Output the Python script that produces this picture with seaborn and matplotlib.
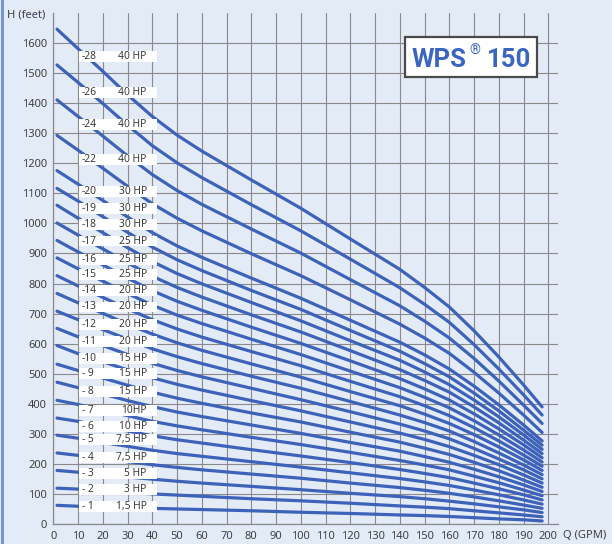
import matplotlib
matplotlib.use("Agg")
import matplotlib.pyplot as plt
import seaborn as sns
import pandas as pd
from matplotlib.patches import Rectangle
from matplotlib.lines import Line2D

# ---------------- data ----------------
flow_gpm = [1.5, 10, 20, 30, 40, 50, 60, 80, 100, 120, 140, 150, 160, 170,
            180, 190, 197.5]

head_s1 = [63, 60, 58, 56, 53, 51, 49, 45, 40, 36, 31, 29, 26, 22, 18, 15, 11]
head_s2 = [120, 117, 111, 107, 101, 97, 93, 85, 78, 70, 61, 57, 52, 45, 38, 31, 25]
head_s3 = [179, 173, 165, 157, 150, 143, 137, 126, 115, 103, 92, 85, 77, 68, 58, 48, 39]
head_s4 = [237, 229, 218, 208, 198, 189, 181, 167, 153, 137, 122, 113, 103, 91, 78, 64, 53]
head_s5 = [296, 286, 272, 259, 246, 235, 226, 208, 190, 171, 152, 141, 129, 114, 98, 81, 67]
head_s6 = [353, 342, 326, 310, 294, 281, 270, 248, 227, 205, 182, 169, 155, 137, 118, 98, 81]
head_s7 = [412, 398, 379, 361, 342, 327, 314, 289, 265, 239, 212, 197, 181, 160, 138, 114, 95]
head_s8 = [472, 454, 433, 411, 391, 373, 358, 330, 302, 272, 243, 225, 206, 183, 158, 131, 109]
head_s9 = [532, 511, 486, 462, 439, 419, 402, 370, 340, 306, 273, 253, 232, 206, 178, 147, 123]
head_s10 = [594, 567, 540, 513, 487, 465, 446, 411, 377, 340, 303, 282, 258, 229, 198, 164, 137]
head_s11 = [651, 623, 594, 564, 535, 511, 490, 452, 414, 374, 333, 310, 284, 252, 217, 181, 151]
head_s12 = [708, 680, 647, 615, 583, 557, 534, 492, 452, 408, 363, 338, 310, 275, 237, 197, 165]
head_s13 = [767, 736, 701, 665, 632, 603, 578, 533, 489, 441, 394, 366, 335, 298, 257, 214, 179]
head_s14 = [826, 792, 754, 716, 680, 649, 622, 574, 527, 475, 424, 394, 361, 321, 277, 230, 193]
head_s15 = [885, 849, 808, 767, 728, 695, 667, 615, 564, 509, 454, 422, 387, 344, 297, 247, 207]
head_s16 = [943, 905, 862, 818, 776, 741, 711, 655, 601, 543, 484, 450, 413, 367, 317, 264, 221]
head_s17 = [1001, 961, 915, 869, 824, 787, 755, 696, 639, 577, 514, 478, 439, 390, 337, 280, 235]
head_s18 = [1060, 1017, 969, 919, 873, 833, 799, 737, 676, 610, 545, 506, 464, 413, 357, 297, 249]
head_s19 = [1116, 1074, 1022, 970, 921, 879, 843, 777, 714, 644, 575, 534, 490, 436, 377, 313, 263]
head_s20 = [1175, 1130, 1076, 1021, 969, 925, 887, 818, 751, 678, 605, 563, 516, 459, 397, 330, 277]
head_s22 = [1292, 1243, 1183, 1123, 1065, 1017, 975, 899, 826, 746, 665, 619, 568, 505, 436, 363, 305]
head_s24 = [1410, 1355, 1290, 1224, 1162, 1109, 1063, 981, 901, 813, 726, 675, 619, 551, 476, 396, 335]
head_s26 = [1526, 1468, 1398, 1326, 1258, 1201, 1152, 1062, 975, 881, 786, 731, 671, 597, 516, 430, 363]
head_s28 = [1645, 1580, 1505, 1427, 1355, 1293, 1240, 1144, 1050, 948, 847, 787, 722, 643, 556, 463, 390]

stages = [1, 2, 3, 4, 5, 6, 7, 8, 9, 10, 11, 12, 13, 14, 15, 16, 17, 18, 19, 20,
          22, 24, 26, 28]
head_curves = [head_s1, head_s2, head_s3, head_s4, head_s5, head_s6, head_s7,
               head_s8, head_s9, head_s10, head_s11, head_s12, head_s13, head_s14,
               head_s15, head_s16, head_s17, head_s18, head_s19, head_s20,
               head_s22, head_s24, head_s26, head_s28]

stage_text = ["- 1", "- 2", "- 3", "- 4", "- 5", "- 6", "- 7", "- 8", "- 9",
              "-10", "-11", "-12", "-13", "-14", "-15", "-16", "-17", "-18",
              "-19", "-20", "-22", "-24", "-26", "-28"]
hp_text = ["1,5 HP", "3 HP", "5 HP", "7,5 HP", "7,5 HP", "10 HP", "10HP",
           "15 HP", "15 HP", "15 HP", "20 HP", "20 HP", "20 HP", "20 HP",
           "25 HP", "25 HP", "25 HP", "30 HP", "30 HP", "30 HP",
           "40 HP", "40 HP", "40 HP", "40 HP"]
# vertical centre of each label box (in feet)
label_h = [58, 117, 169, 222, 282, 326, 379, 440, 501, 551, 606, 664, 722,
           778, 830, 881, 941, 997, 1050, 1105, 1213, 1327, 1435, 1553]

x_ticks = list(range(0, 201, 10))
y_ticks = list(range(0, 1601, 100))

# ---------------- style ----------------
BG = "#e3ebf7"
LINE = "#3d62b9"
GRID = "#8a8a8a"
TXT = "#404040"
TITLE = "#3b66bf"

sns.set_style("white", rc={"axes.facecolor": BG, "figure.facecolor": BG})
plt.rcParams["font.family"] = ["Noto Sans", "DejaVu Sans"]

rows = []
for st, hc in zip(stages, head_curves):
    for q, h in zip(flow_gpm, hc):
        rows.append({"stage": st, "Q": q, "H": h})
df = pd.DataFrame(rows)

fig = plt.figure(figsize=(6.12, 5.44), dpi=100)
ax = fig.add_axes([53.3 / 612, 19.7 / 544, 504.9 / 612, 511.7 / 544])

sns.lineplot(data=df, x="Q", y="H", units="stage", estimator=None, sort=False,
             color=LINE, linewidth=2.3, solid_capstyle="round",
             solid_joinstyle="round", ax=ax, legend=False, zorder=2)

ax.set_xlim(0, 204)
ax.set_ylim(0, 1700)
ax.set_xticks(x_ticks)
ax.set_yticks(y_ticks)
ax.set_xlabel("")
ax.set_ylabel("")
ax.grid(True, color=GRID, lw=0.8)
ax.set_axisbelow(True)
for side in ["top", "right"]:
    ax.spines[side].set_visible(False)
for side in ["left", "bottom"]:
    ax.spines[side].set_color(GRID)
    ax.spines[side].set_linewidth(0.9)
ax.tick_params(length=2.5, width=0.8, color=GRID, labelsize=8,
               labelcolor=TXT, pad=2)

# stage / power labels
for st_t, hp_t, yc in zip(stage_text, hp_text, label_h):
    ax.add_patch(Rectangle((10.4, yc - 18), 31.5, 36, facecolor="white",
                           edgecolor="none", zorder=3))
    ax.text(11.5, yc, st_t, ha="left", va="center", fontsize=7.4,
            color="#3a3a3a", zorder=4)
    ax.text(37.8, yc, hp_t, ha="right", va="center", fontsize=7.4,
            color="#3a3a3a", zorder=4)

# title box
ax.add_patch(Rectangle((142.2, 1485), 53.1, 133, facecolor="white",
                       edgecolor="#4a4a4a", lw=1.6, zorder=5))
ax.text(144.8, 1520, "WPS", ha="left", va="baseline", fontsize=18.5,
        fontweight="bold", color=TITLE, family="Roboto", zorder=6)
ax.text(168.0, 1572, "®", ha="left", va="center", fontsize=10,
        color=TITLE, family="Roboto", zorder=6)
ax.text(175.1, 1520, "150", ha="left", va="baseline", fontsize=18.5,
        fontweight="bold", color=TITLE, family="Roboto", zorder=6)

# axis titles
fig.text(7 / 612, 1 - 15 / 544, "H (feet)", ha="left", va="center",
         fontsize=8, color=TXT)
fig.text(563 / 612, 1 - 535 / 544, "Q (GPM)", ha="left", va="center",
         fontsize=8, color=TXT)

fig.add_artist(Line2D([0.003, 0.003], [0, 1], transform=fig.transFigure,
                      color="#6f8fd3", lw=2))

fig.savefig("out.png", dpi=100, facecolor=BG)
